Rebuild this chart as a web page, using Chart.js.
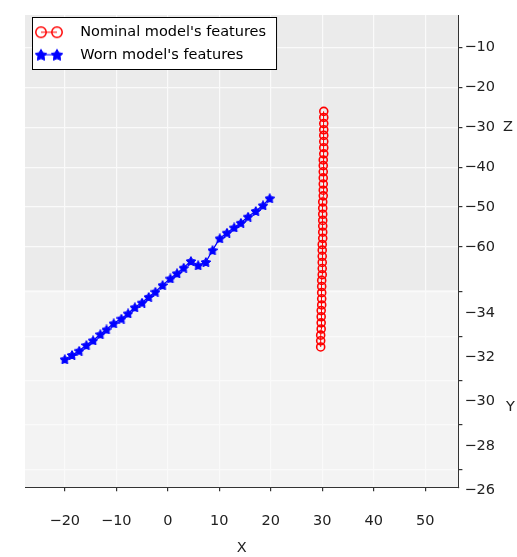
<!DOCTYPE html>
<html>
<head>
<meta charset="utf-8">
<script src="https://cdn.jsdelivr.net/npm/chart.js@4/dist/chart.umd.min.js"></script>
<style>
  html, body { margin: 0; padding: 0; background: #fff; }
  #wrap { width: 517px; height: 557px; }
</style>
</head>
<body>
<div id="wrap"><canvas id="features" width="517" height="557"></canvas></div>
<script>
// view seen from above: X across, vertical position given as % of the plot height
const xTicks = [-20, -10, 0, 10, 20, 30, 40, 50]
const zTicks = [-60, -50, -40, -30, -20, -10]
const yTicks = [-34, -32, -30, -28, -26]

const nominalX = [29.7, 29.7, 29.7, 29.8, 29.8, 29.8, 29.8, 29.9, 29.9, 29.9,
                  29.9, 29.9, 30.0, 30.0, 30.0, 30.0, 30.0, 30.0, 30.1, 30.1,
                  30.1, 30.1, 30.1, 30.1, 30.1, 30.2, 30.2, 30.2, 30.2, 30.2,
                  30.2, 30.2, 30.3, 30.3, 30.3, 30.3, 30.3, 30.3, 30.3, 30.3]
const nominalV = [29.7, 31.0, 32.2, 33.5, 34.8, 36.1, 37.4, 38.6, 39.9, 41.2,
                  42.5, 43.8, 45.0, 46.3, 47.6, 48.9, 50.2, 51.4, 52.7, 54.0,
                  55.3, 56.5, 57.8, 59.1, 60.4, 61.7, 62.9, 64.2, 65.5, 66.8,
                  68.1, 69.3, 70.6, 71.9, 73.2, 74.5, 75.7, 77.0, 78.3, 79.6]

const wornX = [-20.0, -18.6, -17.2, -15.8, -14.5, -13.1, -11.9, -10.5, -9.0, -7.7,
               -6.4, -5.0, -3.7, -2.4, -1.0, 0.5, 1.8, 3.1, 4.5, 5.9,
               7.4, 8.7, 10.1, 11.5, 12.9, 14.2, 15.6, 17.1, 18.5, 19.8]
const wornV = [27.1, 28.0, 28.9, 30.1, 31.1, 32.4, 33.4, 34.7, 35.7, 36.8,
               38.1, 39.1, 40.3, 41.4, 42.8, 44.2, 45.3, 46.5, 47.9, 47.0,
               47.7, 50.2, 52.7, 53.9, 55.0, 56.0, 57.3, 58.5, 59.7, 61.2]

const font = { family: 'DejaVu Sans', size: 14.5 }
const gridColor = '#fafafa'
const axisColor = '#333'

function minus(v) {
  return String(v).replace('-', '\u2212')
}

function star(size, color) {
  const c = document.createElement('canvas')
  c.width = size
  c.height = size
  const g = c.getContext('2d')
  g.beginPath()
  for (let i = 0; i < 10; i++) {
    const r = i % 2 ? size * 0.27 : size * 0.5
    const a = -Math.PI / 2 + i * Math.PI / 5
    g.lineTo(size / 2 + r * Math.cos(a), size / 2 + 0.6 + r * Math.sin(a))
  }
  g.closePath()
  g.fillStyle = color
  g.fill()
  g.strokeStyle = color
  g.lineWidth = 1
  g.stroke()
  return c
}

// legend marker: two markers joined by a line
function legendMark(kind, color) {
  const c = document.createElement('canvas')
  c.width = 40
  c.height = 16
  const g = c.getContext('2d')
  g.strokeStyle = color
  g.lineWidth = 1
  g.beginPath()
  g.moveTo(8, 8)
  g.lineTo(24, 8)
  g.stroke()
  for (const cx of [8, 24]) {
    if (kind === 'circle') {
      g.lineWidth = 1.5
      g.beginPath()
      g.arc(cx, 8, 5.2, 0, Math.PI * 2)
      g.stroke()
    } else {
      g.drawImage(star(12, color), cx - 6, 2)
    }
  }
  return c
}

const wornStar = star(10, '#0000ff')

const panes = {
  id: 'panes',
  beforeDraw(chart) {
    const ctx = chart.ctx
    const a = chart.chartArea
    const z = chart.scales.z
    const y = chart.scales.yy
    ctx.save()
    ctx.fillStyle = '#ebebeb'
    ctx.fillRect(a.left, z.top, a.right - a.left, z.bottom - z.top)
    ctx.fillStyle = '#f3f3f3'
    ctx.fillRect(a.left, y.top, a.right - a.left, y.bottom - y.top)
    ctx.restore()
  },
  afterDraw(chart) {
    const ctx = chart.ctx
    const lg = chart.legend
    const hb = lg.legendHitBoxes
    const left = Math.min(...hb.map(b => b.left)) - 1
    const right = Math.max(...hb.map(b => b.left + b.width)) + 10
    const top = hb[0].top - 8
    const bottom = hb[hb.length - 1].top + hb[hb.length - 1].height + 7
    ctx.save()
    ctx.fillStyle = '#fff'
    ctx.fillRect(left, top, right - left, bottom - top)
    ctx.strokeStyle = '#000'
    ctx.lineWidth = 1
    ctx.strokeRect(left + 0.5, top + 0.5, right - left, bottom - top)
    ctx.restore()
    lg.draw()

    // upright axis names next to the right hand axes
    const z = chart.scales.z
    const y = chart.scales.yy
    ctx.save()
    ctx.font = '14.5px "DejaVu Sans"'
    ctx.fillStyle = '#222'
    ctx.textBaseline = 'middle'
    ctx.fillText('Z', z.right + 6, z.getPixelForValue(-30))
    ctx.fillText('Y', y.right + 9, y.getPixelForValue(-28.8))
    ctx.restore()
  }
}

function build_chart_features() {
  const el = document.getElementById('features')
  new Chart(el, {
    type: 'scatter',
    plugins: [panes],
    data: {
      datasets: [
        {
          label: "Nominal model's features",
          data: nominalX.map((x, i) => ({ x: x, y: nominalV[i] })),
          showLine: true,
          borderColor: '#ff0000',
          borderWidth: 1,
          pointStyle: 'circle',
          pointRadius: 4,
          pointBorderWidth: 1.6,
          pointBorderColor: '#ff0000',
          pointBackgroundColor: 'rgba(255,255,255,0)',
          yAxisID: 'proj'
        },
        {
          label: "Worn model's features",
          data: wornX.map((x, i) => ({ x: x, y: wornV[i] })),
          showLine: true,
          borderColor: '#0000ff',
          borderWidth: 1.2,
          pointStyle: wornStar,
          yAxisID: 'proj'
        }
      ]
    },
    options: {
      responsive: false,
      animation: false,
      events: [],
      layout: { padding: { left: 25, top: 15, right: 20, bottom: 0 } },
      plugins: {
        tooltip: { enabled: false },
        legend: {
          position: 'chartArea',
          align: 'start',
          title: { display: true, text: '', font: { size: 10, lineHeight: 1 }, padding: { top: 7, bottom: 0 } },
          labels: {
            usePointStyle: true,
            pointStyleWidth: 40,
            padding: 8,
            color: '#000',
            font: font,
            generateLabels: () => [
              { text: "Nominal model's features", pointStyle: legendMark('circle', '#ff0000'), fontColor: '#000',
                fillStyle: 'rgba(0,0,0,0)', strokeStyle: 'rgba(0,0,0,0)', lineWidth: 0, datasetIndex: 0 },
              { text: "Worn model's features", pointStyle: legendMark('star', '#0000ff'), fontColor: '#000',
                fillStyle: 'rgba(0,0,0,0)', strokeStyle: 'rgba(0,0,0,0)', lineWidth: 0, datasetIndex: 1 }
            ]
          }
        }
      },
      scales: {
        x: {
          type: 'linear',
          position: 'bottom',
          min: -27.73,
          max: 56.45,
          afterBuildTicks: s => { s.ticks = xTicks.map(v => ({ value: v })) },
          grid: { color: gridColor, lineWidth: 1.2, tickLength: 4, tickColor: axisColor },
          border: { color: axisColor, width: 1 },
          ticks: { font: font, color: '#222', padding: 21, maxRotation: 0, callback: v => minus(v) },
          title: { display: true, text: 'X', font: font, color: '#222', padding: { top: -11, bottom: 0 } }
        },
        z: {
          type: 'linear',
          position: 'right',
          stack: 'right',
          stackWeight: 275,
          min: -70.88,
          max: -1.78,
          afterBuildTicks: s => { s.ticks = zTicks.map(v => ({ value: v })) },
          grid: { color: gridColor, lineWidth: 1.2, tickLength: 4, tickColor: axisColor },
          border: { color: axisColor, width: 1 },
          ticks: { font: font, color: '#222', padding: 2, callback: v => minus(v) }
        },
        yy: {
          type: 'linear',
          position: 'right',
          stack: 'right',
          stackWeight: 197,
          reverse: true,
          min: -34.08,
          max: -25.2,
          afterBuildTicks: s => { s.ticks = yTicks.map(v => ({ value: v })) },
          grid: { color: gridColor, lineWidth: 1.2, tickLength: 4, tickColor: axisColor },
          border: { color: axisColor, width: 1 },
          ticks: { font: font, color: '#222', padding: 2, labelOffset: 21, callback: v => minus(v) }
        },
        proj: {
          type: 'linear',
          position: 'left',
          display: false,
          min: 0,
          max: 100
        }
      }
    }
  })
}
build_chart_features()
</script>
</body>
</html>
